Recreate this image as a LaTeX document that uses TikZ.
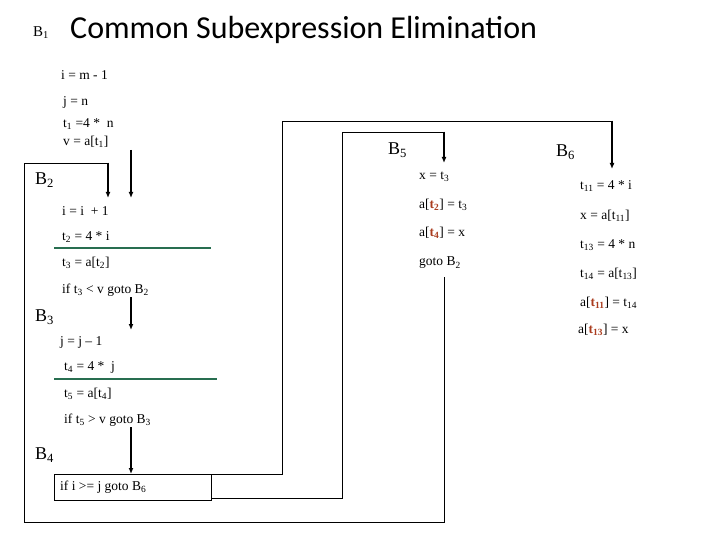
\documentclass[tikz,border=0pt]{standalone}
\usepackage{fontspec}
\usetikzlibrary{arrows.meta}
\setmainfont{Liberation Serif}
\newfontfamily\titlefont{Carlito}
\definecolor{tred}{RGB}{170,60,30}
\definecolor{gline}{RGB}{40,110,80}
\newcommand{\ssb}[1]{\textsubscript{#1}}
\newcommand{\rt}[1]{\textcolor{tred}{\textbf{t\ssb{#1}}}}
\begin{document}
\begin{tikzpicture}[x=1pt,y=-1pt,
  code/.style={anchor=west,inner sep=0pt,font=\fontsize{13.5}{15}\selectfont},
  blab/.style={anchor=west,inner sep=0pt,font=\fontsize{18}{20}\selectfont},
  ln/.style={line width=0.8pt},
  arr/.style={line width=1.8pt,-{Latex[length=6pt,width=5pt]}},
  gl/.style={line width=1.5pt,gline}]
\useasboundingbox (0,0) rectangle (720,540);
% title
\node[anchor=west,inner sep=0pt,font=\fontsize{15}{17}\selectfont] (b1) at (33,33) {B\ssb{1}};
\node[anchor=west,inner sep=0pt,font=\titlefont\fontsize{32}{35}\selectfont] (title) at (70,30) {Common Subexpression Elimination};
% B1
\node[code] (l1) at (61,75) {i = m - 1};
\node[code] (l2) at (63,102) {j = n};
\node[code] (l3) at (63,124) {t\ssb{1} =4 *\ \ n};
\node[code] (l4) at (63,142) {v = a[t\ssb{1}]};
% B2
\node[blab] (B2) at (35,180) {B\ssb{2}};
\node[code] (l5) at (62,211) {i = i\ \ + 1};
\node[code] (l6) at (62,237) {t\ssb{2} = 4 * i};
\node[code] (l7) at (62,263) {t\ssb{3} = a[t\ssb{2}]};
\node[code] (l8) at (62,290) {if t\ssb{3} < v goto B\ssb{2}};
% B3
\node[blab] (B3) at (35,317) {B\ssb{3}};
\node[code] (l9) at (60,342) {j = j -- 1};
\node[code] (l10) at (64,367) {t\ssb{4} = 4 *\ \ j};
\node[code] (l11) at (64,394) {t\ssb{5} = a[t\ssb{4}]};
\node[code] (l12) at (64,420) {if t\ssb{5} > v goto B\ssb{3}};
% B4
\node[blab] (B4) at (35,455) {B\ssb{4}};
\node[draw,line width=0.8pt,minimum width=157pt,minimum height=26pt,inner sep=0pt] (box4) at (132.5,487) {};
\node[code] (l13) at (60,487) {if i >= j goto B\ssb{6}};
% B5
\node[blab] (B5) at (388,150) {B\ssb{5}};
\node[code] (l14) at (419,177) {x = t\ssb{3}};
\node[code] (l15) at (419,205) {a[\rt{2}] = t\ssb{3}};
\node[code] (l16) at (419,233) {a[\rt{4}] = x};
\node[code] (l17) at (419,263) {goto B\ssb{2}};
% B6
\node[blab] (B6) at (556,152) {B\ssb{6}};
\node[code] (l18) at (580,186) {t\ssb{11} = 4 * i};
\node[code] (l19) at (580,216) {x = a[t\ssb{11}]};
\node[code] (l20) at (580,245) {t\ssb{13} = 4 * n};
\node[code] (l21) at (580,274) {t\ssb{14} = a[t\ssb{13}]};
\node[code] (l22) at (580,303) {a[\rt{11}] = t\ssb{14}};
\node[code] (l23) at (578,330) {a[\rt{13}] = x};
% green lines
\draw[gl] (54,248) -- (211,248);
\draw[gl] (54,379) -- (217,379);
% coordinates
\coordinate (a1s) at (131,150); \coordinate (a1e) at (131,198);
\coordinate (a2s) at (131,297); \coordinate (a2e) at (131,330);
\coordinate (a3s) at (131,427); \coordinate (a3e) at (131,474);
\coordinate (g5) at (444,277);
\coordinate (b5in) at (444,163);
\coordinate (b6in) at (612,169);
\coordinate (b2in) at (108,198);
\coordinate (o4a) at (211,498);
\coordinate (o4b) at (211,474);
% arrows
\draw[arr] (a1s) -- (a1e);
\draw[arr] (a2s) -- (a2e);
\draw[arr] (a3s) -- (a3e);
% loop back to B2
\draw[ln] (g5) -- (444,522) -- (24,522) -- (24,163) -- (108,163);
\draw[arr] (108,162.6) -- (b2in);
% box4 to B5
\draw[ln] (o4a) -- (342,498) -- (342,132) -- (444,132);
\draw[arr] (444,131.6) -- (b5in);
% box4 to B6
\draw[ln] (o4b) -- (282,474) -- (282,121) -- (612,121);
\draw[arr] (612,120.6) -- (b6in);
\end{tikzpicture}
\end{document}
